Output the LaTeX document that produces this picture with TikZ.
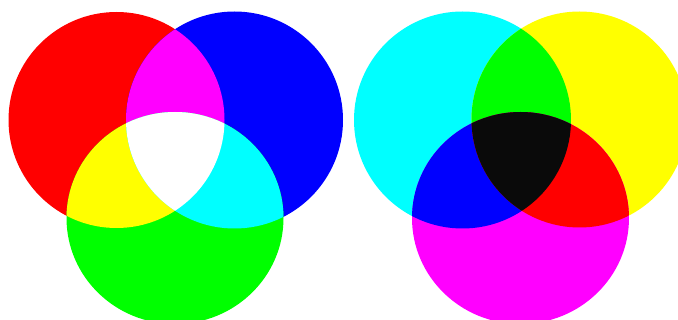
\documentclass[tikz,border=0pt]{standalone}
\definecolor{cRed}{RGB}{255,0,0}
\definecolor{cGreen}{RGB}{0,255,0}
\definecolor{cBlue}{RGB}{0,0,255}
\definecolor{cCyan}{RGB}{0,255,255}
\definecolor{cMagenta}{RGB}{255,0,255}
\definecolor{cYellow}{RGB}{255,255,0}
\definecolor{cWhite}{RGB}{255,255,255}
\definecolor{cBlack}{RGB}{10,10,10}
\def\circA{(116.5,120) circle [radius=108pt]}
\def\circB{(234.5,120) circle [radius=108.5pt]}
\def\circC{(175,218) ellipse [x radius=108.5pt, y radius=106pt]}
\def\circD{(462.5,120) circle [radius=108.5pt]}
\def\circE{(579.5,119.5) circle [radius=108pt]}
\def\circF{(520.5,218) ellipse [x radius=108.5pt, y radius=106pt]}
\begin{document}
\begin{tikzpicture}[x=1pt,y=-1pt]
\useasboundingbox (0,0) rectangle (678,320);
\fill[white] (0,0) rectangle (678,320);
\clip (0,0) rectangle (678,320);
% additive (RGB)
\fill[cRed] \circA;
\fill[cBlue] \circB;
\fill[cGreen] \circC;
\begin{scope}\clip \circA; \fill[cMagenta] \circB; \end{scope}
\begin{scope}\clip \circA; \fill[cYellow] \circC; \end{scope}
\begin{scope}\clip \circB; \fill[cCyan] \circC; \end{scope}
\begin{scope}\clip \circA; \clip \circB; \fill[cWhite] \circC; \end{scope}
% subtractive (CMY)
\fill[cCyan] \circD;
\fill[cYellow] \circE;
\fill[cMagenta] \circF;
\begin{scope}\clip \circD; \fill[cGreen] \circE; \end{scope}
\begin{scope}\clip \circD; \fill[cBlue] \circF; \end{scope}
\begin{scope}\clip \circE; \fill[cRed] \circF; \end{scope}
\begin{scope}\clip \circD; \clip \circE; \fill[cBlack] \circF; \end{scope}
\end{tikzpicture}
\end{document}
